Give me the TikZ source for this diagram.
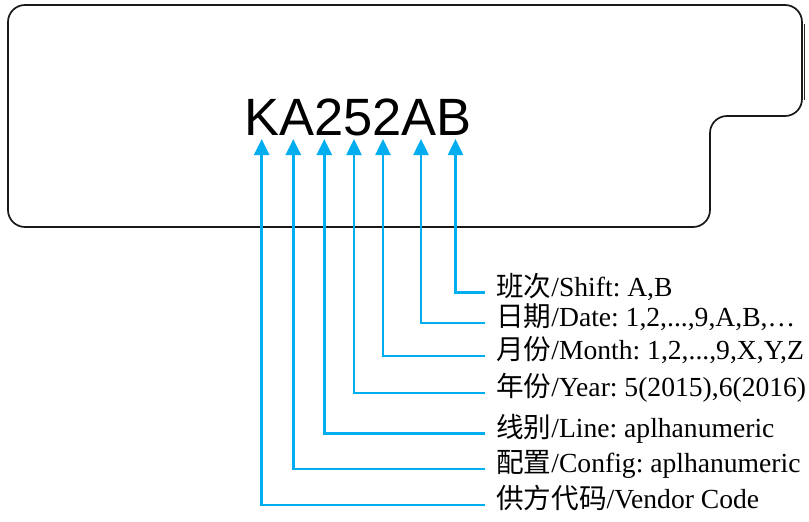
\documentclass[tikz,border=0pt]{standalone}
\usepackage{fontspec}
\setmainfont{Liberation Serif}
\newfontfamily\cjk{Noto Sans CJK SC}
\newfontfamily\arialf{Liberation Sans}
\usetikzlibrary{arrows.meta}
\definecolor{pointer}{RGB}{0,174,239}
\frenchspacing
\tikzset{
  outline/.style={draw=black!90, line width=1.7pt, rounded corners=17pt},
  code/.style={font=\arialf\fontsize{52.5}{56}\selectfont, inner sep=0pt, anchor=base west},
  lbl/.style={font=\fontsize{27.6}{30}\selectfont, anchor=west, inner ysep=0pt, inner xsep=11pt,
              text height=0.88em, text depth=0.12em},
  pointerline/.style={draw=pointer, line width=2.5pt, -{Triangle[width=15pt,length=16pt]}}
}
\begin{document}
\begin{tikzpicture}[x=1pt,y=-1pt]
\useasboundingbox (0,0) rectangle (809,522);
% label outline
\draw[outline] (8,116) -- (8,5) -- (802,5) -- (802,116) -- (710,116) -- (710,227) -- (8,227) -- cycle;
\draw[black!85, line width=1pt] (804.5,24) -- (804.5,100);
% code text
\node[code] (code) at (244,135) {KA252AB};
% arrow tips
\coordinate (t1) at (261.7,139);
\coordinate (t2) at (293.3,139);
\coordinate (t3) at (324.3,139);
\coordinate (t4) at (354,139);
\coordinate (t5) at (383,139);
\coordinate (t6) at (421,139);
\coordinate (t7) at (455.5,139);
% labels
\node[lbl] (l7) at (485,292.5) {{\cjk 班次}/Shift: A,B};
\node[lbl] (l6) at (485,323) {{\cjk 日期}/Date: 1,2,...,9,A,B,…};
\node[lbl] (l5) at (485,356) {{\cjk 月份}/Month: 1,2,...,9,X,Y,Z};
\node[lbl] (l4) at (485,393) {{\cjk 年份}/Year: 5(2015),6(2016)};
\node[lbl] (l3) at (485,433.5) {{\cjk 线别}/Line: aplhanumeric};
\node[lbl] (l2) at (485,469) {{\cjk 配置}/Config: aplhanumeric};
\node[lbl] (l1) at (485,505) {{\cjk 供方代码}/Vendor Code};
% connectors
\foreach \i in {1,...,7} {
  \draw[pointerline] (l\i.west) -| (t\i);
}
\end{tikzpicture}
\end{document}
